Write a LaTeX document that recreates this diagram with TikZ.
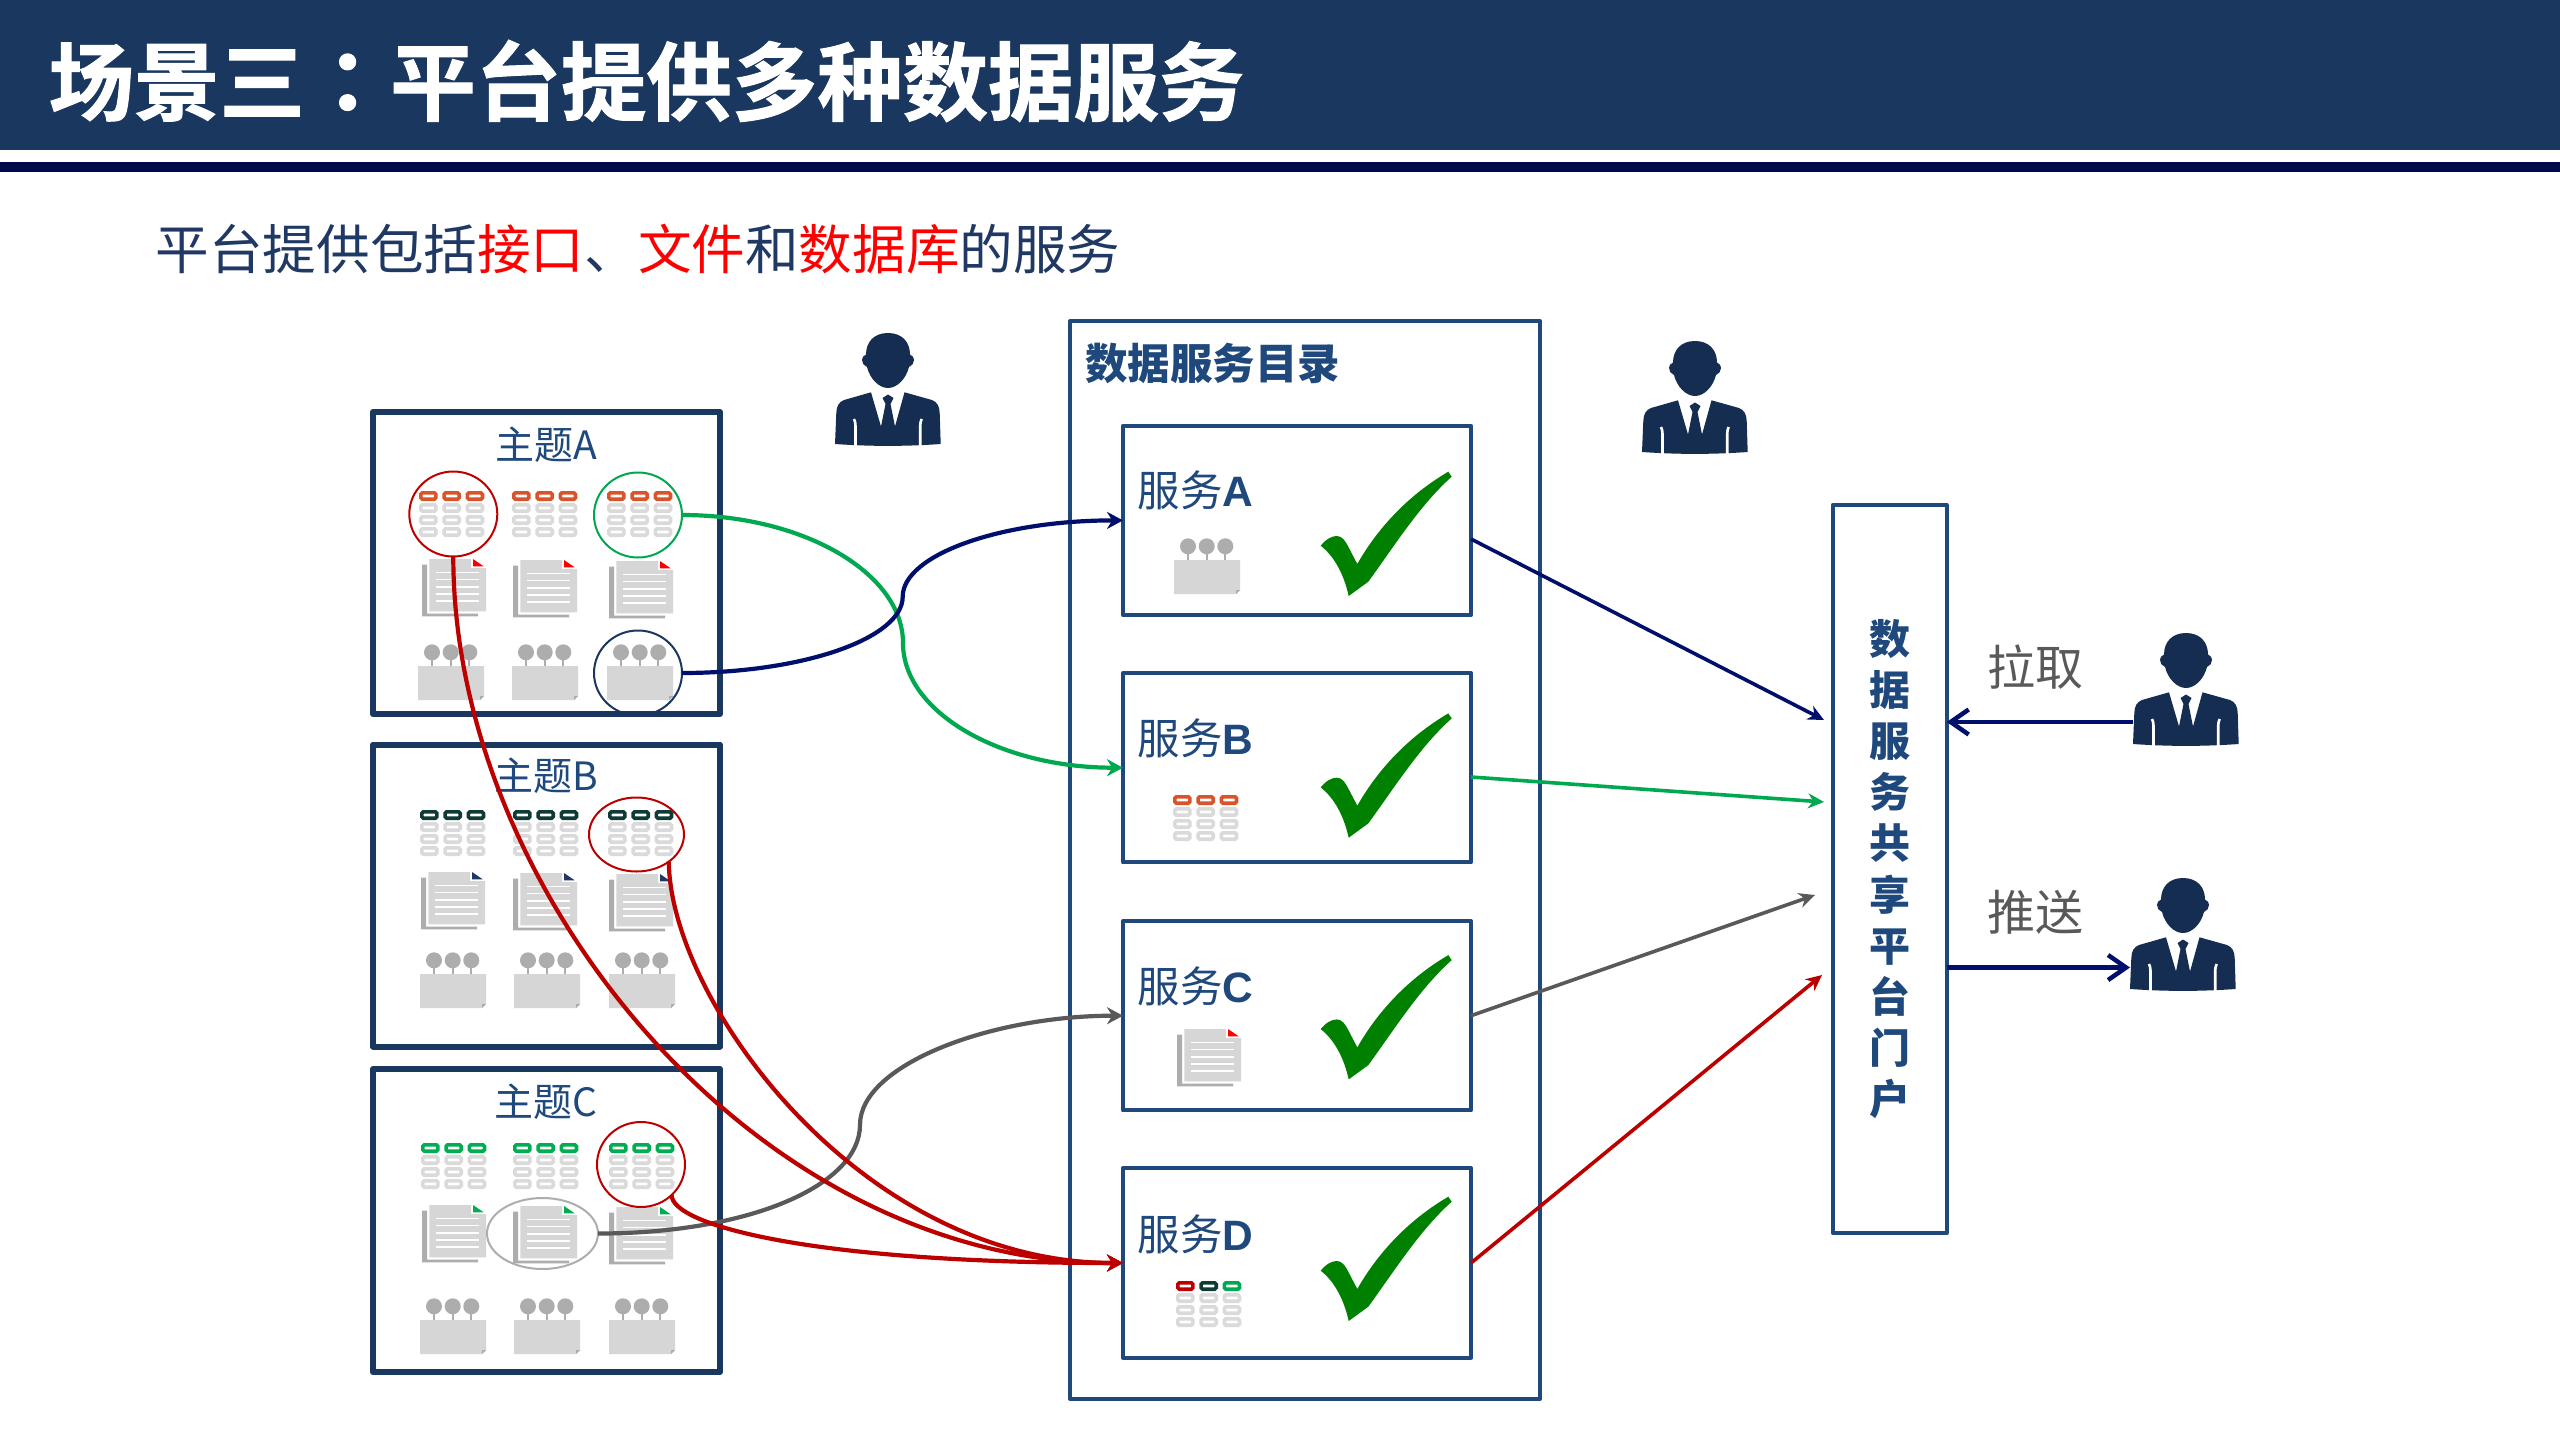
\documentclass[tikz,border=0pt]{standalone}
\usepackage{fontspec}
\setmainfont{Noto Sans CJK SC}
\newfontfamily\heavyfont[FakeBold=1.2]{Noto Sans CJK SC Bold}
\newfontfamily\heavycolon[FakeBold=1.2]{Noto Sans CJK TC Bold}
\newfontfamily\latinbold{Liberation Sans Bold}
\usetikzlibrary{arrows.meta,shapes.geometric}

\definecolor{barblue}{HTML}{1A3760}
\definecolor{rulenavy}{HTML}{000A4A}
\definecolor{boxblue}{HTML}{1F497D}
\definecolor{inknavy}{HTML}{1F3864}
\definecolor{linknavy}{HTML}{000F6B}
\definecolor{linkgreen}{HTML}{00A850}
\definecolor{linkred}{HTML}{BC0000}
\definecolor{linkgray}{HTML}{595959}
\definecolor{cellgray}{HTML}{DADADA}
\definecolor{pagegray}{HTML}{D6D6D6}
\definecolor{backgray}{HTML}{ADADAD}
\definecolor{topicorange}{HTML}{D9542B}
\definecolor{topicdark}{HTML}{0F3B36}
\definecolor{topicgreen}{HTML}{00AD50}
\definecolor{personblue}{HTML}{162D52}
\definecolor{tickgreen}{HTML}{008000}

\tikzset{
  topicbox/.style={draw=barblue,line width=6pt,rectangle,inner sep=0pt,outer sep=0pt,line join=round,minimum width=347pt},
  catbox/.style={draw=boxblue,line width=4pt,rectangle,inner sep=0pt,outer sep=0pt,line join=round},
  svcbox/.style={catbox,minimum width=348pt,minimum height=189.4pt},
  topictitle/.style={inner sep=0pt,text=boxblue,font=\fontsize{39}{39}\selectfont},
  svctitle/.style={inner sep=0pt,anchor=west,text=boxblue,font=\fontsize{42.5}{43}\selectfont},
  picker/.style={ellipse,draw=#1,line width=2pt,inner sep=0pt,outer sep=0pt},
  link/.style={line width=4.2pt,-{Stealth[length=16pt,width=17pt]}},
  thinlink/.style={line width=3.6pt,-{Stealth[length=16pt,width=15pt]}},
  portlink/.style={draw=linknavy,line width=4.5pt,-{Straight Barb[length=18pt,width=25pt,line width=4.5pt]}}
}

% table glyph: three columns, four rows, the head row carrying its own colours
\newcommand{\tblicon}[5]{%
  \begin{scope}[shift={(#1,#2)}]
    \foreach \cx in {0,1,2}\foreach \cy in {1,2,3}
      \draw[cellgray,line width=3.6pt,rounded corners=1.5pt]
        ({\cx*23.3+1.8},{\cy*12+1.8}) rectangle ({\cx*23.3+16.9},{\cy*12+8.2});
    \draw[#3,line width=3.6pt,rounded corners=1.5pt] (1.8,1.8) rectangle (16.9,8.2);
    \draw[#4,line width=3.6pt,rounded corners=1.5pt] (25.1,1.8) rectangle (40.2,8.2);
    \draw[#5,line width=3.6pt,rounded corners=1.5pt] (48.4,1.8) rectangle (63.5,8.2);
  \end{scope}}

% document glyph: shadow edge, sheet with notched corner, coloured flag, text lines
\newcommand{\docicon}[3]{%
  \begin{scope}[shift={(#1,#2)}]
    \fill[backgray] (0,5.7) -- (5,5.7) -- (5,54.7) -- (56,54.7) -- (56,57.3) -- (0,57.3) -- cycle;
    \fill[pagegray] (7.3,0) -- (49,0) -- (49,9) -- (64,9) -- (64,52.3) -- (7.3,52.3) -- cycle;
    \fill[#3] (51,0) -- (61.7,7.3) -- (51,7.3) -- cycle;
    \foreach \ly in {13.3,20.7,28,35,42}
      \draw[white,line width=1.5pt] (14.3,\ly) -- (56.7,\ly);
  \end{scope}}

% database glyph: block with dog-eared corner and three pins on top
\newcommand{\dbicon}[2]{%
  \begin{scope}[shift={(#1,#2)}]
    \foreach \px in {14,32.7,51.3}{
      \draw[backgray,line width=2.2pt] (\px,-8) -- (\px,0);
      \fill[backgray] (\px,-13.7) circle[radius=8];
    }
    \fill[pagegray] (0,0) -- (66,0) -- (66,30) -- (62,34) -- (0,34) -- cycle;
    \fill[backgray] (66,30) -- (62,30) -- (62,34) -- cycle;
  \end{scope}}

% suited figure, origin at the top left of its extent
\newcommand{\personicon}[2]{%
  \begin{scope}[shift={(#1,#2)}]
    \fill[personblue] (53,0) .. controls (39,0) and (31,9) .. (31,21.5)
      .. controls (28,22.5) and (27,25) .. (27,27) .. controls (27,30) and (29,33) .. (32,34)
      .. controls (35,46) and (44,55) .. (53,55) .. controls (62,55) and (71,46) .. (74,34)
      .. controls (77,33) and (79,30) .. (79,27) .. controls (79,25) and (78,22.5) .. (75,21.5)
      .. controls (75,9) and (67,0) .. (53,0) -- cycle;
    \fill[personblue] (0,111) -- (1.3,80) .. controls (1.5,73) and (4,69) .. (9,67)
      -- (36,59.3) -- (46,93.5) -- (50.5,71) -- (47.5,65) -- (53,61.5) -- (58.5,65) -- (55.5,71)
      -- (60,93.5) -- (69.5,59.3) -- (97,67) .. controls (102,69) and (104.5,73) .. (104.7,80)
      -- (105.7,111) .. controls (70,113.5) and (36,113.5) .. (0,111) -- cycle;
    \draw[white,line width=2.6pt] (20.5,114) -- (20.5,93) .. controls (20.5,90) and (20,88) .. (19,86);
    \draw[white,line width=2.6pt] (85.2,114) -- (85.2,93) .. controls (85.2,90) and (85.7,88) .. (86.7,86);
  \end{scope}}

% approval tick
\newcommand{\tickicon}[2]{%
  \begin{scope}[shift={(#1,#2)}]
    \fill[tickgreen] (0.7,35.7) .. controls (6,29) and (12,26) .. (16.7,26)
      .. controls (22,26) and (25,30) .. (30,40) -- (37.3,54)
      .. controls (52,28) and (80,-10) .. (128.3,-38.3) -- (131.7,-33.3)
      .. controls (100,-5) and (75,35) .. (48.3,71.7) -- (28.7,86)
      .. controls (24,65) and (15,47) .. (0.7,35.7) -- cycle;
  \end{scope}}

\begin{document}
\begin{tikzpicture}[x=1pt,y=-1pt]
\path[use as bounding box,fill=white] (0,0) rectangle (2560,1440);

% header band
\fill[barblue] (0,0) rectangle (2560,150);
\fill[rulenavy] (0,162) rectangle (2560,172);
\node[anchor=west,inner sep=0pt,text=white] (heading) at (48.5,81)
  {\fontsize{85.4}{86}\selectfont\heavyfont 场景三\heavycolon ：\heavyfont 平台提供多种数据服务};
\node[anchor=west,inner sep=0pt,text=inknavy] (subhead) at (155.5,249)
  {\fontsize{53.6}{54}\selectfont 平台提供包括\textcolor{red}{接口}、\textcolor{red}{文件}和\textcolor{red}{数据库}的服务};

% theme A contents
\tblicon{419}{491}{topicorange}{topicorange}{topicorange}
\tblicon{512}{491}{topicorange}{topicorange}{topicorange}
\tblicon{607}{491}{topicorange}{topicorange}{topicorange}
\docicon{422}{559}{red}
\docicon{513}{560}{red}
\docicon{609}{561}{red}
\dbicon{418}{666}
\dbicon{512}{666}
\dbicon{607}{666}
% theme B contents
\tblicon{420}{810}{topicdark}{topicdark}{topicdark}
\tblicon{513}{810}{topicdark}{topicdark}{topicdark}
\tblicon{608}{810}{topicdark}{topicdark}{topicdark}
\docicon{421}{872}{inknavy}
\docicon{513}{873}{inknavy}
\docicon{609}{874}{inknavy}
\dbicon{420}{974}
\dbicon{514}{974}
\dbicon{609}{974}
% theme C contents
\tblicon{421}{1143}{topicgreen}{topicgreen}{topicgreen}
\tblicon{513}{1143}{topicgreen}{topicgreen}{topicgreen}
\tblicon{609}{1143}{topicgreen}{topicgreen}{topicgreen}
\docicon{422}{1205}{topicgreen}
\docicon{513}{1206}{topicgreen}
\docicon{609}{1207}{topicgreen}
\dbicon{420}{1320}
\dbicon{514}{1320}
\dbicon{609}{1320}

% selection rings
\node[picker=linkred,minimum width=88pt,minimum height=85pt] (pickAred) at (453.3,514) {};
\node[picker=linkgreen,minimum width=88pt,minimum height=85pt] (pickAgreen) at (638,515) {};
\node[picker=barblue,minimum width=88pt,minimum height=85pt] (pickAnavy) at (638,673) {};
\node[picker=linkred,minimum width=95pt,minimum height=74pt] (pickB) at (636.5,834.5) {};
\node[picker=linkred,minimum width=88pt,minimum height=85pt] (pickCred) at (641,1164.5) {};
\node[picker=backgray,minimum width=111pt,minimum height=71pt] (pickCgray) at (542.5,1233.5) {};

% theme frames
\node[topicbox,minimum height=302pt] (themeA) at (546.5,563) {};
\node[topicbox,minimum height=302pt] (themeB) at (546.5,895.5) {};
\node[topicbox,minimum height=303pt] (themeC) at (546.5,1220.5) {};
\node[topictitle] (titleA) at (546.5,445) {主题A};
\node[topictitle] (titleB) at (546,776) {主题B};
\node[topictitle] (titleC) at (546,1102) {主题C};

% service catalogue
\node[catbox,minimum width=470pt,minimum height=1078pt] (catalog) at (1305,860) {};
\node[anchor=west,inner sep=0pt,text=boxblue] (catalogtitle) at (1085,363)
  {\fontsize{42.5}{43}\selectfont\bfseries 数据服务目录};
\node[svcbox] (svcA) at (1297,520.4) {};
\node[svcbox] (svcB) at (1297,767.7) {};
\node[svcbox] (svcC) at (1297,1015.7) {};
\node[svcbox] (svcD) at (1297,1263) {};
\node[svctitle] (svcAt) at (1137.5,490) {服务{\latinbold A}};
\node[svctitle] (svcBt) at (1137.5,738) {服务{\latinbold B}};
\node[svctitle] (svcCt) at (1137.5,986) {服务{\latinbold C}};
\node[svctitle] (svcDt) at (1137.5,1234) {服务{\latinbold D}};
\dbicon{1174}{560}
\tblicon{1173}{795}{topicorange}{topicorange}{topicorange}
\docicon{1177}{1029}{red}
\tblicon{1176}{1281}{linkred}{topicdark}{linkgreen}
\tickicon{1320}{510}
\tickicon{1320}{751.7}
\tickicon{1320}{993.4}
\tickicon{1320}{1235}

% sharing portal
\node[catbox,minimum width=114pt,minimum height=728pt,align=center,text=boxblue,
      font=\fontsize{41}{51.2}\selectfont\bfseries] (portal) at (1889.7,869)
  {数\\据\\服\\务\\共\\享\\平\\台\\门\\户};
\node[inner sep=0pt,text=linkgray,font=\fontsize{48}{48}\selectfont] (pull) at (2035.5,667) {拉取};
\node[inner sep=0pt,text=linkgray,font=\fontsize{48}{48}\selectfont] (push) at (2035.5,912) {推送};

% people
\personicon{835}{333}
\personicon{1642}{341}
\personicon{2133}{633}
\personicon{2130}{878}
\coordinate (puller) at (2133,722);
\coordinate (pusher) at (2130,967.5);
\draw[portlink] (puller) -- (portal.east |- puller);
\draw[portlink] (portal.east |- pusher) -- (pusher);

% picks routed into the catalogue
\coordinate (midGreen) at (903,643);
\coordinate (midNavy) at (902.7,596.7);
\coordinate (midGray) at (860,1124.8);
\draw[link,draw=linkgreen,fill=linkgreen] [fill=none] (pickAgreen.east)
  .. controls (805,515) and (903,574) .. (midGreen)
  .. controls (903,712) and (1000,767.7) .. (svcB.west);
\draw[link,draw=linknavy] (pickAnavy.east)
  .. controls (804,673) and (902.7,638) .. (midNavy)
  .. controls (902.7,555) and (1000,520.4) .. (svcA.west);
\draw[link,draw=linkgray] (pickCgray.east)
  .. controls (750,1233.5) and (860,1185) .. (midGray)
  .. controls (860,1065) and (990,1015.7) .. (svcC.west);
\draw[link,draw=linkred] (pickAred.south) .. controls (453,890) and (753.6,1263) .. (svcD.west);
\draw[link,draw=linkred] (pickB.-40) .. controls (670,1000) and (860,1263) .. (svcD.west);
\draw[link,draw=linkred] (pickCred.-45) .. controls (672,1225) and (810,1263) .. (svcD.west);

% services out to the portal
\coordinate (inNavy) at (1824,720);
\coordinate (inGreen) at (1824,802);
\coordinate (inGray) at (1815,895);
\coordinate (inRed) at (1822,975);
\draw[thinlink,draw=linknavy] ([yshift=-18.6pt]svcA.east) -- (inNavy);
\draw[thinlink,draw=linkgreen] ([yshift=-9.3pt]svcB.east) -- (inGreen);
\draw[thinlink,draw=linkgray] (svcC.east) -- (inGray);
\draw[thinlink,draw=linkred] (svcD.east) -- (inRed);
\end{tikzpicture}
\end{document}
